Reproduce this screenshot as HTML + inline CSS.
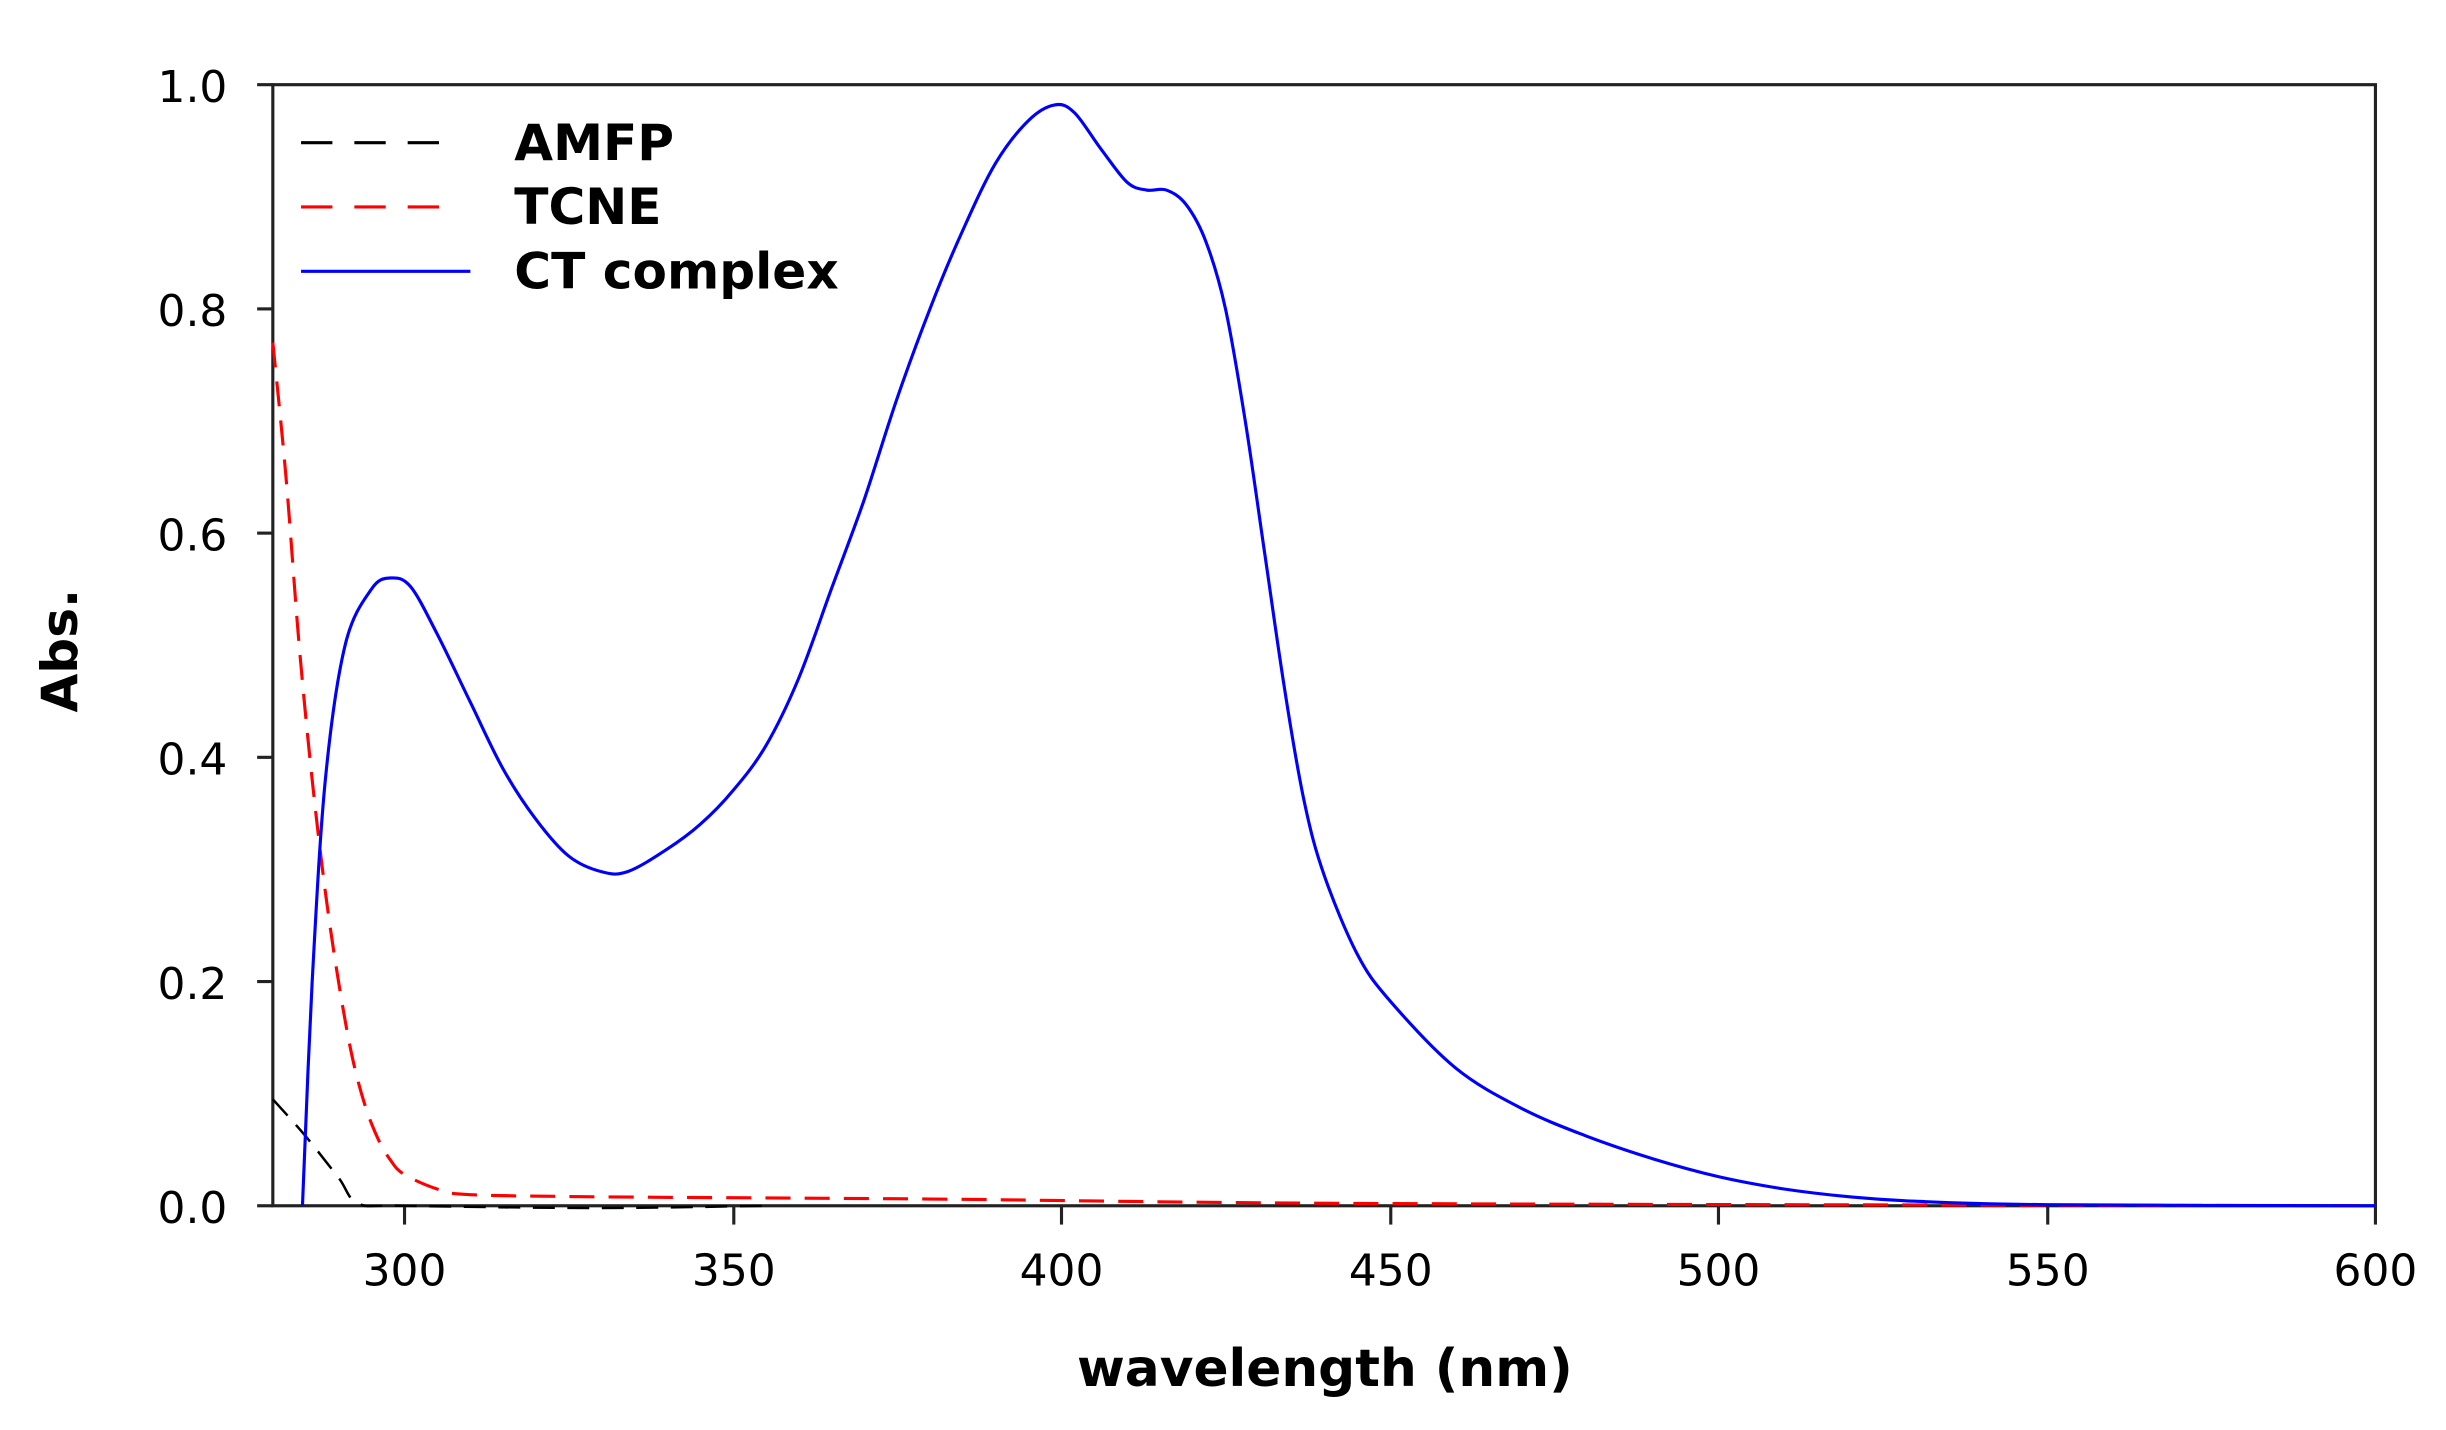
<!DOCTYPE html>
<html><head><meta charset="utf-8"><style>
html,body{margin:0;padding:0;background:#fff;width:2446px;height:1430px;overflow:hidden}
svg{display:block}
text{font-family:"DejaVu Sans","Liberation Sans",sans-serif;fill:#000}
</style></head><body>
<svg id="s" width="2446" height="1430" viewBox="0 0 1560 912" xmlns="http://www.w3.org/2000/svg">
<rect x="0" y="0" width="1560" height="912" fill="#fff"/>
<g stroke="#222" stroke-width="2" fill="none">
<rect x="174" y="54" width="1341" height="715"/>
<line x1="164" y1="54" x2="174" y2="54"/>
<line x1="164" y1="197" x2="174" y2="197"/>
<line x1="164" y1="340" x2="174" y2="340"/>
<line x1="164" y1="483" x2="174" y2="483"/>
<line x1="164" y1="626" x2="174" y2="626"/>
<line x1="164" y1="769" x2="174" y2="769"/>
<line x1="258" y1="769" x2="258" y2="781"/>
<line x1="468" y1="769" x2="468" y2="781"/>
<line x1="677" y1="769" x2="677" y2="781"/>
<line x1="887" y1="769" x2="887" y2="781"/>
<line x1="1096" y1="769" x2="1096" y2="781"/>
<line x1="1306" y1="769" x2="1306" y2="781"/>
<line x1="1515" y1="769" x2="1515" y2="781"/>
</g>
<g font-size="28" text-anchor="end">
<text x="145" y="65">1.0</text><text x="145" y="208">0.8</text><text x="145" y="351">0.6</text>
<text x="145" y="494">0.4</text><text x="145" y="637">0.2</text><text x="145" y="780">0.0</text>
</g>
<g font-size="28" text-anchor="middle">
<text x="258" y="820">300</text><text x="468" y="820">350</text><text x="677" y="820">400</text>
<text x="887" y="820">450</text><text x="1096" y="820">500</text><text x="1306" y="820">550</text><text x="1515" y="820">600</text>
</g>
<text x="845" y="884" font-size="33" font-weight="bold" text-anchor="middle">wavelength (nm)</text>
<text transform="translate(49,415) rotate(-90)" font-size="32" font-weight="bold" text-anchor="middle">Abs.</text>
<g stroke-width="2" fill="none">
<line x1="192" y1="91" x2="292" y2="91" stroke="#000" stroke-dasharray="20,14"/>
<line x1="192" y1="132" x2="292" y2="132" stroke="#f00" stroke-dasharray="20,14"/>
<line x1="192" y1="173" x2="300" y2="173" stroke="#00f"/>
</g>
<g font-size="32" font-weight="bold">
<text x="328" y="102">AMFP</text><text x="328" y="143">TCNE</text><text x="328" y="184">CT complex</text>
</g>
<path id="amfp" fill="none" stroke="#000" stroke-width="1.6" stroke-dasharray="14,8"/>
<path id="tcne" fill="none" stroke="#f00" stroke-width="2" stroke-dasharray="16,9"/>
<path id="ct" fill="none" stroke="#00f" stroke-width="2"/>
</svg>
<script>
function X(w){return 174+(w-280)*4.1906}
function Y(a){return 769-a*715}
function path(d){var p=d.map(function(q){return [X(q[0]),Y(q[1])]});var s="M"+p[0][0].toFixed(1)+","+p[0][1].toFixed(1);
for(var i=0;i<p.length-1;i++){var p0=p[i-1]||p[i],p1=p[i],p2=p[i+1],p3=p[i+2]||p2;
var c1=[p1[0]+(p2[0]-p0[0])/6,p1[1]+(p2[1]-p0[1])/6],c2=[p2[0]-(p3[0]-p1[0])/6,p2[1]-(p3[1]-p1[1])/6];
s+="C"+c1[0].toFixed(1)+","+c1[1].toFixed(1)+" "+c2[0].toFixed(1)+","+c2[1].toFixed(1)+" "+p2[0].toFixed(1)+","+p2[1].toFixed(1);}return s;}
var ct=[[284.5,0],[286,0.2],[288,0.38],[291,0.5],[295,0.55],[298,0.56],[301,0.552],[305,0.51],[310,0.45],[315,0.39],[320,0.345],[325,0.312],[330,0.298],[334,0.298],[340,0.318],[345,0.34],[350,0.37],[355,0.41],[360,0.47],[365,0.55],[370,0.63],[375,0.72],[380,0.8],[385,0.87],[390,0.93],[395,0.968],[399,0.982],[402,0.975],[406,0.943],[410,0.913],[413,0.906],[416,0.906],[419,0.893],[422,0.86],[425,0.8],[428,0.7],[431,0.58],[434,0.46],[437,0.36],[440,0.295],[445,0.225],[450,0.183],[460,0.123],[470,0.087],[480,0.062],[490,0.042],[500,0.026],[510,0.015],[520,0.008],[530,0.004],[550,0.001],[600,0]];
var tc=[[280,0.77],[282,0.65],[284,0.5],[286,0.38],[288,0.28],[290,0.2],[292,0.135],[294,0.09],[296,0.06],[298,0.04],[300,0.028],[305,0.015],[310,0.01],[330,0.008],[380,0.006],[450,0.002],[600,0]];
var am=[[280,0.095],[285,0.062],[290,0.025],[293,0.002],[300,0],[330,-0.002],[355,0]];
document.getElementById('ct').setAttribute('d',path(ct));
document.getElementById('tcne').setAttribute('d',path(tc));
document.getElementById('amfp').setAttribute('d',path(am));
</script>
</body></html>
